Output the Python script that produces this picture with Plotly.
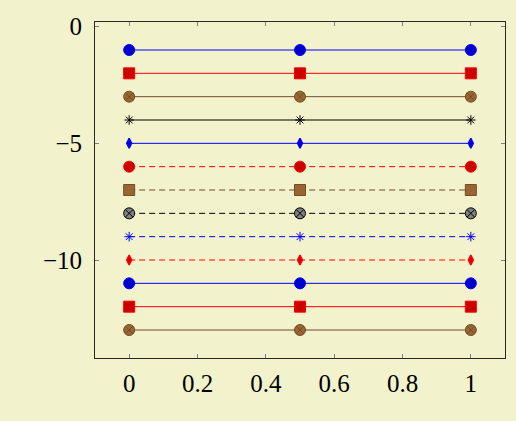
import plotly.graph_objects as go

x_vals = [0, 0.5, 1]
y_levels = [-1, -2, -3, -4, -5, -6, -7, -8, -9, -10, -11, -12, -13]
x_ticks = [0, 0.2, 0.4, 0.6, 0.8, 1]
x_tick_labels = ["0", "0.2", "0.4", "0.6", "0.8", "1"]
y_ticks = [0, -5, -10]
y_tick_labels = ["0", "\u22125", "\u221210"]

BLUE = "rgb(0,0,255)"
BLUE_F = "rgb(0,0,204)"
RED = "rgb(255,0,0)"
RED_F = "rgb(204,0,0)"
BROWN = "rgb(115,77,38)"
BROWN_F = "rgb(153,102,51)"
BLACK = "rgb(0,0,0)"
GRAY = "rgb(128,128,128)"

# cycle list styles (line colour, dash, symbol, fill, size, marker line width)
styles = [
    (BLUE, "solid", "circle", BLUE_F, 11, 1),
    (RED, "solid", "square", RED_F, 11, 1),
    (BROWN, "solid", "circle-x", BROWN_F, 11, 1),
    (BLACK, "solid", "asterisk-open", BLACK, 8, 1),
    (BLUE, "solid", "diamond-tall", BLUE_F, 7, 1.5),
    (RED, "6px,4px", "circle", RED_F, 11, 1),
    (BROWN, "6px,4px", "square", BROWN_F, 11, 1),
    (BLACK, "6px,4px", "circle-x", GRAY, 11, 1),
    (BLUE, "6px,4px", "asterisk-open", BLUE, 8, 1),
    (RED, "6px,4px", "diamond-tall", RED_F, 7, 1.5),
]

fig = go.Figure()
for i, yv in enumerate(y_levels):
    col, dash, sym, fill, size, lw = styles[i % len(styles)]
    fig.add_trace(go.Scatter(
        x=x_vals, y=[yv] * len(x_vals), mode="lines+markers",
        line=dict(color=col, width=1, dash=dash),
        marker=dict(symbol=sym, size=size, color=fill,
                    line=dict(color=col, width=lw)),
        showlegend=False,
    ))

BG = "rgb(242,242,204)"
font = dict(family="Liberation Serif, DejaVu Serif, serif", size=25, color="black")
fig.update_layout(
    width=516, height=421,
    margin=dict(l=95, r=11, t=22, b=63),
    paper_bgcolor=BG, plot_bgcolor=BG,
    font=font,
)
fig.update_xaxes(
    range=[-0.1, 1.1], tickvals=x_ticks, ticktext=x_tick_labels,
    ticks="inside", ticklen=4, tickcolor="rgb(128,128,128)", tickwidth=1,
    showline=True, linecolor="rgb(40,40,40)", linewidth=1, mirror="allticks",
    showgrid=False, zeroline=False, ticklabelstandoff=3,
)
fig.update_yaxes(
    range=[-14.2, 0.2], tickvals=y_ticks, ticktext=y_tick_labels,
    ticks="inside", ticklen=4, tickcolor="rgb(128,128,128)", tickwidth=1,
    showline=True, linecolor="rgb(40,40,40)", linewidth=1, mirror="allticks",
    showgrid=False, zeroline=False, ticklabelstandoff=7,
)
fig.write_html("out.html", config={"displayModeBar": False},
               post_script="document.body.style.margin='0';")
